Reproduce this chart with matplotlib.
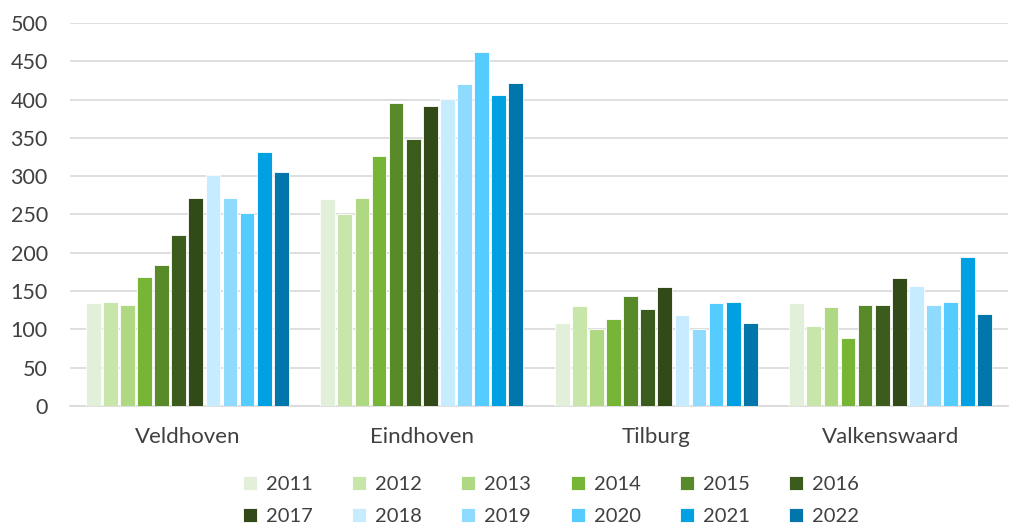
import matplotlib
matplotlib.use("Agg")
import matplotlib.pyplot as plt
import numpy as np

categories = ["Veldhoven", "Eindhoven", "Tilburg", "Valkenswaard"]
years = ["2011", "2012", "2013", "2014", "2015", "2016",
         "2017", "2018", "2019", "2020", "2021", "2022"]
veldhoven = [135, 136, 132, 169, 184, 223, 271, 301, 271, 252, 332, 306]
eindhoven = [270, 251, 272, 327, 396, 348, 391, 401, 421, 462, 406, 422]
tilburg = [109, 130, 101, 113, 143, 127, 156, 119, 100, 135, 136, 109]
valkenswaard = [135, 105, 129, 89, 132, 132, 167, 157, 132, 136, 194, 120]
colors = ["#E2F0D9", "#C8E6AA", "#AED982", "#76B536", "#588A2A", "#3B5C1C",
          "#314A18", "#C8ECFF", "#8FDBFF", "#55CCFF", "#00A0E3", "#0076AB"]

data = np.array([veldhoven, eindhoven, tilburg, valkenswaard])

plt.rcParams['font.family'] = ['Lato', 'DejaVu Sans']

fig = plt.figure(figsize=(10.13, 5.25), dpi=100)
ax = fig.add_axes([70/1013, 1 - 406/525, 938/1013, 383/525])

n = len(years)
group_w = 0.875
bw = group_w / n
x = np.arange(len(categories))
handles = []
for i, (yr, c) in enumerate(zip(years, colors)):
    h = ax.bar(x - group_w/2 + bw*(i + 0.5), data[:, i], width=bw*0.86, color=c,
               edgecolor="white", linewidth=0.6, label=yr, zorder=3)
    handles.append(h)

ax.set_xlim(-0.5, len(categories) - 0.5)
ax.set_ylim(0, 500)
ax.set_yticks(np.arange(0, 501, 50))
ax.set_xticks(x)
ax.set_xticklabels(categories)
ax.grid(axis="y", color="#D9D9D9", linewidth=1.2, zorder=0)
for s in ["top", "right", "left"]:
    ax.spines[s].set_visible(False)
ax.spines["bottom"].set_color("#D9D9D9")
ax.spines["bottom"].set_linewidth(1.2)
ax.tick_params(axis="both", length=0, labelsize=15.5, colors="#404040")
ax.tick_params(axis="x", labelsize=16)
ax.tick_params(axis="y", pad=16)
ax.tick_params(axis="x", pad=15)

# row-major legend ordering for 2 rows x 6 cols
order = [j for k in range(6) for j in (k, k + 6)]
leg = fig.legend([handles[j] for j in order], [years[j] for j in order],
                 loc="lower center", bbox_to_anchor=(0.544, -0.034), ncol=6,
                 frameon=False, fontsize=14.5, handlelength=0.7, handleheight=0.7,
                 columnspacing=1.95, handletextpad=0.45, labelspacing=0.72)
for t in leg.get_texts():
    t.set_color("#404040")

fig.savefig("out.png", dpi=100)
